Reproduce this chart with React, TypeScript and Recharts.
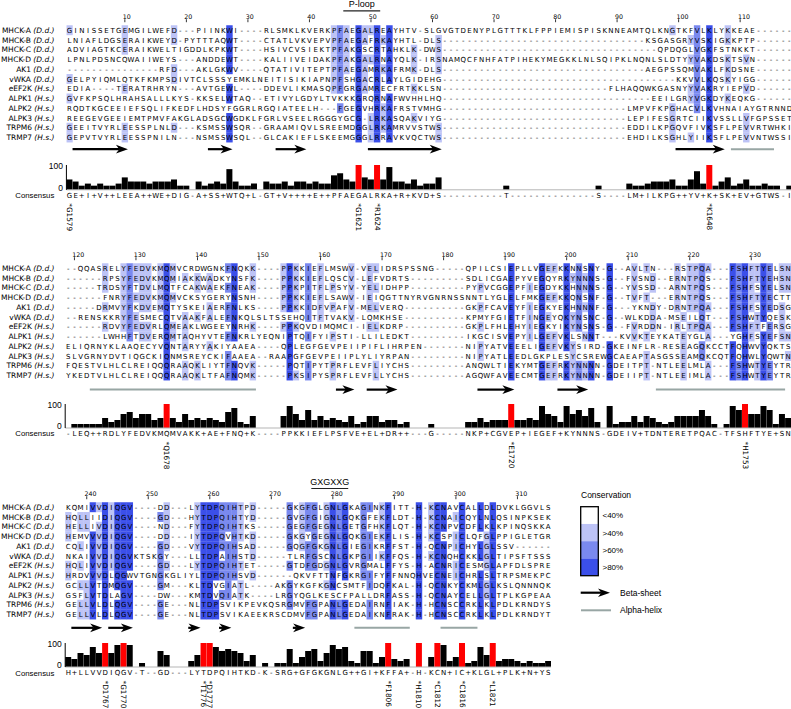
import React from 'react'
import { ScatterChart, Scatter, BarChart, Bar, Cell, XAxis, YAxis, ReferenceLine } from 'recharts'

const SEQ_FONT = 'DejaVu Sans'
const LABEL_FONT = 'Liberation Sans, Arial, sans-serif'

// sequence names, species
const NAMES = ['MHCK-A', 'MHCK-B', 'MHCK-C', 'MHCK-D', 'AK1', 'vWKA', 'eEF2K', 'ALPK1', 'ALPK2', 'ALPK3', 'TRPM6', 'TRMP7']
const SPECIES = ['D.d.', 'D.d.', 'D.d.', 'D.d.', 'D.d.', 'D.d.', 'H.s.', 'H.s.', 'H.s.', 'H.s.', 'H.s.', 'H.s.']

const gap = (n: number) => '-'.repeat(n)

// alignment columns 1-118
const BLOCK1 = [
  'GINISSETGEMGILWEFD---PIINKWI----' + 'RLSMKLKVERKPFAEGALREAYHTV-SLG' + 'VGTDENYPLGTTTKLFPPIEMISPISKNNEAMTQLKNGTKFVLKLYKKEAE' + gap(6),
  'LNIAFLDGSERAIKWEYD-PYTTTAQWT----' + 'CTATLVKVEPVPFAEGAFRKAYHTL-DLS' + gap(33) + 'KSGASGRYVSKIGKKPTP' + gap(6),
  'ADVIAGTKCERAIKWELTIGDDLKPKWT----' + 'HSIVCVSIEKTPFAKGSCRTAHKLK-DWS' + gap(35) + 'QPDQGLVGKFSTNKKT' + gap(6),
  'LPNLPDSNCQWAIIWEYS---ANDDEWT----' + 'KALIIVEIDAKPFAKGALRNAYQLK-IRS' + 'NAMQCFNHFATPIHEKYMEGKKLNLSQIPKLNQNLSLDTYYVAKDSKTSVN' + gap(6),
  gap(15) + 'RFD---AKLGKWV----' + 'QTATIVITEPTPFAEGAMRKAFRMK-DLS' + gap(33) + 'AEGPSSQMVAKLFKDSNE' + gap(6),
  'GELPYIQMLQTKFKMPSDIVTCLSSSYEMKLN' + 'EITISIKIAPNPFSHGACRLAYLGIDEHG' + gap(38) + 'KKVVLKQSKYIGG' + gap(6),
  'EDIA----TERATRHRYN---AVTGEWL----' + 'DDEVLIKMASQPFGRGAMRECFRTKKLSN' + gap(27) + 'FLHAQQWKGASNYYVAKRYIEPVD' + gap(6),
  'GVFKPSQLHRAHSALLLKYS-KKSELWTAQ--' + 'ETIVYLGDYLTVKKKGRQRNAFWVHHLHQ' + gap(34) + 'EEILGRYVGKDYKEQKG' + gap(6),
  'RQDTKGCEEIEFSQLIFKEDFLHDSYFGGRLR' + 'GQIATEELH---FGEGVHRKAFRSTVMHG' + gap(30) + 'LMPVFKPGHACVLKVHNAIAYGTRNND',
  'REEGEVGEEIEMTPMVFAKGLADSGCWGDKLF' + 'GRLVSEELRGGGYGCG-LRKASQAKVIYG' + gap(30) + 'LEPIFESGRTCIIKVSSLLVFGPSSET',
  'GEEITVYRLEESSPLNLD---KSMSSWSQR--' + 'GRAAMIQVLSREEMDGGLRKAMRVVSTWS' + gap(30) + 'EDDILKPGQVFIVKSFLPEVVRTWHKI',
  'GEPVTVYRLEESSPNILN---NSMSSWSQL--' + 'GLCAKIEFLSKEEMGGGLRRAVKVQCTWS' + gap(30) + 'EHDILKSGHLYIIKSFLPEVVNTWSSI',
]

// alignment columns 119-236
const BLOCK2 = [
  '--QQASRELYFEDVKMQMVCRDWGNKFNQKK' + gap(4) + 'PPKKIEFLMSWV-VELIDRSPSSNG' + gap(5) + 'QPILCSIEPLLV' + 'GEFKKNNSNY-G--AVLTN---RSTPQA---FSHFTYELSN',
  '------RPSYFEDVKMQMIAKKWADKYNSFK' + gap(4) + 'PPKKIEFLQSCV-LEFVDRTS' + gap(9) + 'SDLICGAEPYVE' + 'GQYRKYNNNS-G--FVSND--ERNTPQS---FSHFTYEHSN',
  '-----TRDSYFTDVLMQTFCAKWAEKFNEAK' + gap(4) + 'PPKPITFLPSYV-YELIDHPP' + gap(9) + 'PYPVCGGEPFIE' + 'GDYKKHNNNS-G--YVSSD--ARNTPQS---FSHFSYELSN',
  '------FNRYFEDVKMQMVCKSYGERYNSNH' + gap(4) + 'PPKKIEFLSAWV-IEIQGTTNYRVGNRNSSNNTLYGLELFMK' + 'GEFKKQNSNF-G--TVFT---ERNTPQS---FSHFTYECTT',
  '-----DRMVYFKDVEMQTYSKEIAERFNLKS' + gap(4) + 'PPKKIDFVPAFV-MELVERQ' + gap(10) + 'GKPFCAVEYFIE' + 'GKYEKHNNNF-G---YKNDY-DRNTPQA---FSHFSYEDSG',
  '--RENSKKRYFESMECQTVAAKFALEFNKQLSLTSSEHQITFTVAKV-LQMKHSE' + gap(10) + 'KPMYFGIETFIN' + 'GEYQKYNSNC-G--WLKDDA-MSEILQT---FSHWTYQESK',
  '------RDVYFEDVRLQMEAKLWGEEYNRHK' + gap(4) + 'PPKQVDIMQMCI-IELKDRP' + gap(10) + 'GKPLFHLEHYIE' + 'GKYIKYNSNS-G--FVRDDN-IRLTPQA---FSHFTFERSG',
  '------LWHHFTDVERQMTAQHYVTEFNKRLYEQNIPTQIFYIPSTI-LLILEDKT' + gap(9) + 'IKGCISVEPYIL' + 'GEFVKLSNNT---KVVKTEYKATEYGLA---YGHFSYEFSN',
  'ELIQRNYKLAAQECYVQNTARYYAKIYAAEA' + gap(4) + 'QPLEGFGEVPEIIPIFLIHRPEN' + gap(7) + 'NIPYATVEEELI' + 'GEFVKYSIRD-GKEINFLR-RESEAGQKCCTFQHWVYQKTS',
  'SLVGRNYDVTIQGCKIQNMSREYCKIFAAEA' + gap(2) + 'RAAPGFGEVPEIIPLYLIYRPAN' + gap(9) + 'NIPYATLEEDLG' + 'KPLESYCSREWGCAEAPTASGSSEAMQKCQTFQHWLYQWTN',
  'FQESTVLHLCLREIQQQRAAQKLIYTFNQVK' + gap(5) + 'PQTIPYTPRFLEVFLIYCHS' + gap(9) + 'ANQWLTIEKYMT' + 'GEFRKYNNNN-GDEITPT-NTLEELMLA---FSHWTYEYTR',
  'YKEDTVLHLCLREIQQQRAAQKLTFAFNQMK' + gap(5) + 'PKSIPYSPRFLEVFLLYCHS' + gap(9) + 'AGQWFAVEECMT' + 'GEFRKYNNNN-GDEIIPT-NTLEEIMLA---FSHWTYEYTR',
]

// alignment columns 237-315
const BLOCK3 = [
  'KQMIVVDIQGV----DD---LYTDPQIHTPD-----GKGFGLGNLGKAGINKFITT-H-KCNAVCALLDLDVKLGGVLS',
  'HQLLIIDIQGV----GD---HYTDPQIHTYD-----GVGFGIGNLGQKGFEKFLDT-H-KCNAICQYLNLQSINPKSEK',
  'HELLIVDIQGV----ND---FYTDPQIHTKS-----GEGFGEGNLGETGFHKFLQT-H-KCNPVCDFLKLKPINQSKKA',
  'HEMVVVDIQGV----DD---IYTDPQVHTKD-----GKGYGEGNLGQKGIEKFLIS-H-KCSPICLQFGLPPIGLETGR',
  'CQLIVVDIQGV----GD---VYTDPQIHSAD-----GQGFGKGNLGIEGIKRFFST-H-QCNPICHYLGLSSV------',
  'NKAIVVDIQGVKTSKGY---LLTDPAIHSTD-----TLRFGSCNLGKPGIIKFFQS-H-KCNQHCKKLGLTIPSFTSSS',
  'HQLIVVDIQGV----GD---LYTDPQIHTET-----GTDFGDGNLGVRGMALFFYS-H-ACNRICESMGLAPFDLSPRE',
  'HRDVVVDLQGWVTGNGKGLIYLTDPQIHSVD------QKVFTTNFGKRGIFYFFNNQHVECNEICHRLSLTRPSMEKPC',
  'GCLLVTDMQGV----GM---KLTDVGIATL----AKGYKGFKGNCSMTFIDQFKAL-H-QCNKYCKMLGLKSLQNNNQK',
  'GSFLVTDLAGV----DW---KMTDVQIATK----LRGYQGLKESCFPALLDRFASS-H-QCNAYCELLGLTPLKGPEAA',
  'GELLVLDLQGV----GE---NLTDPSVIKPEVKQSRGMVFGPANLGEDAIRNFIAK-H-HCNSCCRKLKLPDLKRNDYS',
  'GELLVLDLQGV----GE---NLTDPSVIKAEEKRSCDMVFGPANLGEDAIKNFRAK-H-HCNSCCRKLKLPDLKRNDYT',
]

const CONSENSUS1 = 'GE+I+V++LEEA++WE+DIG-A+SS+WTQ+L-G' + 'T+V++++E++PFAEGALRKA+R+KVD+S' + gap(10) + 'T' + gap(14) + 'S' + gap(4) + 'LM+ILKPG++YV+K+SK+EV+GTWS-I'
const CONSENSUS2 = '-LEQ++RDLYFEDVKMQMVAKK+AE+FNQ+K--' + '--PPKKIEFLPSFVE+EL+DR++---G-----NKP+CGVEP+' + 'IEGEF+KYNNNS-GDEIV+TDNTERETPQAC-TFSHFTYE+SN'
const CONSENSUS3 = 'H+LLVVDIQGV-T--GD---LYTDPQIHTKD-K-SRG+GFGKGNLG++GI+KFFA+-H-KCN+IC+KLGL+PLK+N+YS'

const BLOCKS = [BLOCK1, BLOCK2, BLOCK3]
const CONSENSUS = [CONSENSUS1, CONSENSUS2, CONSENSUS3]
const BLOCK_START = [1, 119, 237]

// marked residues (alignment column -> label), red bars
const SITE_COLUMNS = [1, 48, 51, 105, 135, 191, 229, 243, 246, 259, 260, 289, 294, 297, 301, 306]
const SITE_LABELS = ['*G1579', '*G1621', '*R1624', '*K1648', '*Q1678', '*E1720', '*H1753', '*D1767', '*G1770', '*T1776', '*D1777', '*F1806', '*H1810', '*C1812', '*C1816', '*L1821']
const RED_COLUMNS = [48, 51, 105, 135, 191, 229, 243, 246, 259, 260, 289, 294, 297, 301, 306]

// secondary structure (alignment columns)
const STRANDS = [[2, 10], [24, 27], [35, 39], [50, 61], [100, 107], [163, 165], [168, 172], [186, 191], [199, 203], [238, 242], [244, 247], [257, 258], [262, 263], [274, 275]]
const HELICES = [[109, 115], [123, 149], [215, 235], [284, 292], [298, 303]]
const MOTIF_NAMES = ['P-loop', 'GXGXXG']
const MOTIF_RANGES = [[46, 51], [277, 282]]

const DARK = '#3b4fe9'
const MID = '#7a89ef'
const LIGHT = '#bdc3f6'
const HELIX = '#98a6a4'

const PITCH = 6.153
const ROW_H = 9.75
const Y_DOMAIN = [-3.1, 12.9]
const LAYOUT = [
  { row0: 30, plotLeft: 66.4, barTop: 164.5, barBottom: 189.3, ssY: 12.2, motifY: -1.98 },
  { row0: 268.7, plotLeft: 65.2, barTop: 403.5, barBottom: 427.5, ssY: 12.45, motifY: -1.95 },
  { row0: 507.7, plotLeft: 65.2, barTop: 643.3, barBottom: 667.3, ssY: 12.37, motifY: -1.92 },
]

function columnStats(rows: string[]) {
  const len = rows[0].length
  const out: { max: number; top: Set<string> }[] = []
  for (let i = 0; i < len; i++) {
    const counts = new Map<string, number>()
    rows.forEach((r) => {
      const c = r[i]
      if (c && c !== '-') counts.set(c, (counts.get(c) || 0) + 1)
    })
    let max = 0
    counts.forEach((v) => { if (v > max) max = v })
    const top = new Set<string>()
    counts.forEach((v, k) => { if (v === max) top.add(k) })
    out.push({ max, top })
  }
  return out
}

function shade(max: number, n: number) {
  const f = max / n
  if (f > 0.8) return DARK
  if (f > 0.6) return MID
  if (f > 0.4) return LIGHT
  return null
}

function arrowEls(x1: number, x2: number, y: number, key: string) {
  const hl = Math.min(12, x2 - x1)
  const hh = 4.3
  const shaftEnd = x2 - hl * 0.7
  return (
    <g key={key}>
      {shaftEnd > x1 + 0.5 && <line x1={x1} y1={y} x2={shaftEnd} y2={y} stroke="#000" strokeWidth={2.2} />}
      <polygon points={`${x2},${y} ${x2 - hl},${y - hh} ${x2 - hl * 0.72},${y} ${x2 - hl},${y + hh}`} fill="#000" />
    </g>
  )
}

const CellShape = (props: any) => {
  const { cx, cy, payload } = props
  if (cx == null || cy == null) return <g />
  return (
    <g>
      {payload.fill && (
        <rect x={cx - PITCH / 2 - 0.15} y={cy - ROW_H / 2 - 0.1} width={PITCH + 0.3} height={ROW_H + 0.2} fill={payload.fill} />
      )}
      <text x={cx} y={cy + 2.55} textAnchor="middle" fontSize={7} fontFamily={SEQ_FONT} fill="#000">
        {payload.ch}
      </text>
    </g>
  )
}

const RulerShape = (props: any) => {
  const { cx, cy, payload } = props
  if (cx == null) return <g />
  return (
    <g>
      <line x1={cx} y1={cy} x2={cx} y2={cy - 3} stroke="#000" strokeWidth={0.8} />
      <text x={cx - 2.2} y={cy - 3.3} fontSize={6.3} fontFamily={SEQ_FONT} fill="#000">{payload.t}</text>
    </g>
  )
}

function AlignmentBlock({ b }: { b: number }) {
  const rows = BLOCKS[b]
  const start = BLOCK_START[b]
  const n = rows[0].length
  const L = LAYOUT[b]
  const stats = columnStats(rows)
  const cells: any[] = []
  rows.forEach((seq, r) => {
    for (let i = 0; i < n; i++) {
      const ch = seq[i]
      const st = stats[i]
      const fill = ch !== '-' && st.top.has(ch) ? shade(st.max, rows.length) : null
      cells.push({ x: start + i, y: r, ch, fill })
    }
  })
  const ruler: any[] = []
  for (let c = Math.ceil(start / 10) * 10; c < start + n; c += 10) ruler.push({ x: c, y: -0.82, t: String(c) })

  const inBlock = (c: number) => c >= start && c < start + n
  const chartW = L.plotLeft + n * PITCH
  const chartH = (Y_DOMAIN[1] - Y_DOMAIN[0]) * ROW_H
  const chartTop = L.row0 + Y_DOMAIN[0] * ROW_H

  const barData = stats.map((st, i) => {
    const col = start + i
    const si = SITE_COLUMNS.indexOf(col)
    return {
      col,
      pct: st.max >= 2 ? (st.max / rows.length) * 100 : 0,
      cons: CONSENSUS[b][i],
      red: RED_COLUMNS.includes(col),
      label: si >= 0 ? SITE_LABELS[si] : '',
    }
  })
  const mt = 8
  const barH = mt + (L.barBottom - L.barTop) + 52

  const NameTick = (p: any) => {
    const r = p.payload.value
    const xr = p.x - (L.plotLeft - 54.5)
    return (
      <text x={xr} y={p.y + 2.7} textAnchor="end" fontSize={7.5} fontFamily={SEQ_FONT} fill="#000">
        {NAMES[r] + ' '}
        <tspan fontStyle="italic">{'(' + SPECIES[r] + ')'}</tspan>
      </text>
    )
  }
  const ConsTick = (p: any) => {
    const idx = p.index ?? p.payload.index
    const d = barData[idx]
    if (!d) return <g />
    return (
      <g>
        <text x={p.x} y={p.y + 8} textAnchor="middle" fontSize={7} fontFamily={SEQ_FONT} fill="#000">{d.cons}</text>
        {d.label && (
          <text transform={`translate(${p.x},${p.y + 13.5}) rotate(90)`} dominantBaseline="central" fontSize={7.3} fontFamily={SEQ_FONT} fill="#000">
            {d.label}
          </text>
        )}
      </g>
    )
  }
  const PctTick = (p: any) => (
    <text x={p.x - 3.5} y={p.payload.value === 0 ? p.y + 1 : p.y + 3} textAnchor="end" fontSize={8.5} fontFamily={LABEL_FONT} fill="#000">
      {p.payload.value}
    </text>
  )

  return (
    <>
      <div style={{ position: 'absolute', left: 0, top: chartTop }}>
        <ScatterChart width={chartW} height={chartH} margin={{ top: 0, right: 0, bottom: 0, left: 0 }}>
          <XAxis type="number" dataKey="x" domain={[start - 0.5, start + n - 0.5]} allowDataOverflow hide />
          <YAxis
            type="number"
            dataKey="y"
            domain={Y_DOMAIN}
            allowDataOverflow
            reversed
            ticks={rows.map((_, i) => i)}
            interval={0}
            width={L.plotLeft}
            axisLine={false}
            tickLine={false}
            tickSize={0}
            tickMargin={0}
            tick={NameTick}
          />
          <Scatter data={cells} shape={CellShape} isAnimationActive={false} />
          <Scatter data={ruler} shape={RulerShape} isAnimationActive={false} />
          {STRANDS.filter((s) => inBlock(s[0])).map((s, k) => (
            <ReferenceLine
              key={'e' + k}
              segment={[{ x: s[0] - 0.5, y: L.ssY }, { x: s[1] + 0.5, y: L.ssY }]}
              ifOverflow="visible"
              shape={(p: any) => arrowEls(p.x1, p.x2, p.y1, 'a' + k)}
            />
          ))}
          {HELICES.filter((s) => inBlock(s[0])).map((s, k) => (
            <ReferenceLine
              key={'h' + k}
              segment={[{ x: s[0] - 0.5, y: L.ssY }, { x: s[1] + 0.5, y: L.ssY }]}
              ifOverflow="visible"
              stroke={HELIX}
              strokeWidth={2}
            />
          ))}
          {MOTIF_RANGES.map((m, k) =>
            inBlock(m[0]) ? (
              <ReferenceLine
                key={'m' + k}
                segment={[{ x: m[0] - 0.5, y: L.motifY }, { x: m[1] + 0.5, y: L.motifY }]}
                ifOverflow="visible"
                shape={(p: any) => (
                  <g>
                    <line x1={p.x1} y1={p.y1} x2={p.x2} y2={p.y2} stroke="#222" strokeWidth={1.2} />
                    <text x={(p.x1 + p.x2) / 2} y={p.y1 - 3.8} textAnchor="middle" fontSize={9} fontFamily={LABEL_FONT} fill="#000">
                      {MOTIF_NAMES[k]}
                    </text>
                  </g>
                )}
              />
            ) : null
          )}
        </ScatterChart>
      </div>
      <div style={{ position: 'absolute', left: 0, top: L.barTop - mt }}>
        <BarChart width={chartW} height={barH} data={barData} margin={{ top: mt, right: 0, bottom: 0, left: 0 }} barCategoryGap={0} barGap={0}>
          <XAxis
            dataKey="col"
            type="category"
            height={52}
            interval={0}
            tickLine={false}
            tickSize={0}
            tickMargin={0}
            axisLine={{ stroke: '#b5b5b5', strokeWidth: 1 }}
            tick={ConsTick}
          />
          <YAxis
            type="number"
            domain={[0, 100]}
            ticks={[0, 100]}
            width={L.plotLeft}
            axisLine={{ stroke: '#000', strokeWidth: 1 }}
            tickLine={false}
            tickSize={0}
            tickMargin={0}
            tick={PctTick}
          />
          <Bar dataKey="pct" isAnimationActive={false}>
            {barData.map((d, i) => (
              <Cell key={i} fill={d.red ? '#ff0000' : '#000000'} />
            ))}
          </Bar>
        </BarChart>
      </div>
    </>
  )
}

function Overlay() {
  const bands = ['#ffffff', LIGHT, MID, DARK]
  const bandLabels = ['<40%', '>40%', '>60%', '>80%']
  return (
    <svg width={791} height={709} style={{ position: 'absolute', left: 0, top: 0, pointerEvents: 'none' }}>
      {LAYOUT.map((L, b) => (
        <text key={b} x={54.3} y={L.barBottom + 8.2} textAnchor="end" fontSize={7.8} fontFamily={LABEL_FONT} fill="#000">
          Consensus
        </text>
      ))}
      <text x={581} y={498} fontSize={8.5} fontFamily={LABEL_FONT} fill="#000">Conservation</text>
      {bands.map((c, i) => (
        <rect key={i} x={580.7} y={506.7 + i * 17.25} width={17.6} height={17.25} fill={c} />
      ))}
      <rect x={580.7} y={506.7} width={17.6} height={69} fill="none" stroke="#000" strokeWidth={1.3} />
      {bandLabels.map((t, i) => (
        <text key={t} x={602.5} y={518.3 + i * 17.25} fontSize={8} fontFamily={LABEL_FONT} fill="#000">{t}</text>
      ))}
      {arrowEls(580.7, 610, 592.7, 'legA')}
      <text x={620} y={595.7} fontSize={8.5} fontFamily={LABEL_FONT} fill="#000">Beta-sheet</text>
      <line x1={581} y1={610.3} x2={611} y2={610.3} stroke={HELIX} strokeWidth={2} />
      <text x={620} y={613.3} fontSize={8.5} fontFamily={LABEL_FONT} fill="#000">Alpha-helix</text>
    </svg>
  )
}

export default function App() {
  return (
    <div style={{ position: 'absolute', left: 0, top: 0, width: 791, height: 709, overflow: 'hidden', background: '#fff' }}>
      {BLOCKS.map((_, b) => (
        <AlignmentBlock key={b} b={b} />
      ))}
      <Overlay />
    </div>
  )
}
